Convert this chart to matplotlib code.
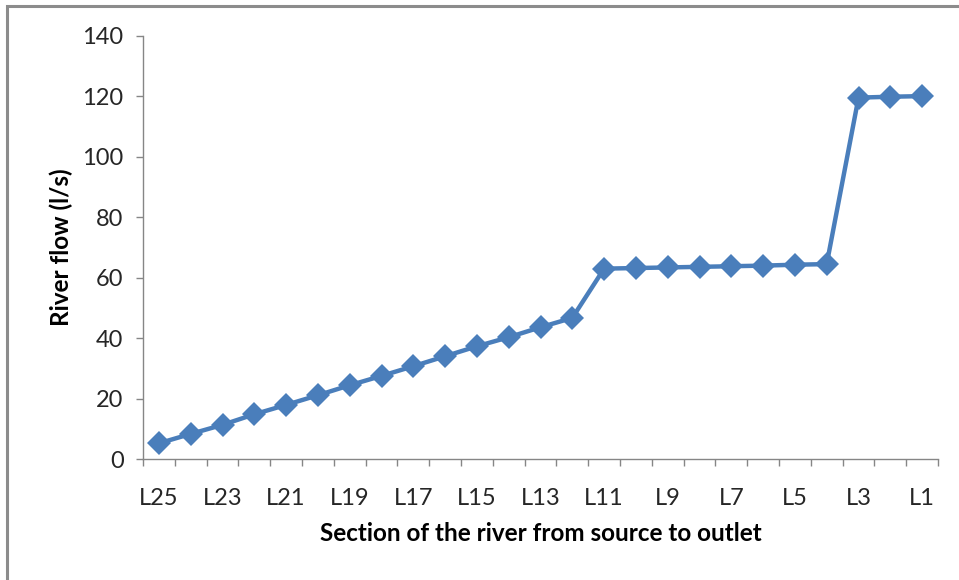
import matplotlib.pyplot as plt
from matplotlib.patches import Rectangle

# River sections from source (L25) to outlet (L1)
sections = ["L%d" % i for i in range(25, 0, -1)]
flow = [5.2, 8.3, 11.3, 14.8, 17.9, 21.1, 24.4, 27.5, 30.7, 34.0, 37.3, 40.3,
        43.6, 46.7, 63.0, 63.2, 63.4, 63.6, 63.8, 64.0, 64.3, 64.5, 119.6, 119.9, 120.1]
yticks = [0, 20, 40, 60, 80, 100, 120, 140]

plt.rcParams["font.family"] = ["Lato", "DejaVu Sans"]
txt = "#262626"
axis_col = "#868686"

fig = plt.figure(figsize=(9.59, 5.8), dpi=100)
ax = fig.add_axes([143 / 959, 1 - 459 / 580, (938 - 143) / 959, (459 - 36) / 580])

x = list(range(len(sections)))
ax.plot(x, flow, color="#4A7EBB", lw=3.2, marker="D", markersize=12,
        markeredgewidth=0, solid_joinstyle="round")

ax.set_xlim(-0.5, len(sections) - 0.5)
ax.set_ylim(0, 140)
ax.set_yticks(yticks)
ax.set_yticklabels([str(v) for v in yticks], fontsize=17, color=txt)

# tick marks between categories, labels on every other section
ax.set_xticks([i - 0.5 for i in range(len(sections) + 1)])
ax.set_xticklabels([])
ax.set_xticks(x[::2], minor=True)
ax.set_xticklabels(sections[::2], minor=True, fontsize=17, color=txt)
ax.tick_params(axis="x", which="minor", length=0, pad=21)
ax.tick_params(axis="both", which="major", length=5, width=1, color=axis_col)
ax.tick_params(axis="y", pad=9)

for s in ["top", "right"]:
    ax.spines[s].set_visible(False)
for s in ["left", "bottom"]:
    ax.spines[s].set_color(axis_col)
    ax.spines[s].set_linewidth(1)

ax.set_xlabel("Section of the river from source to outlet", fontsize=17.5,
              fontweight="bold", color="black", labelpad=9)
ax.set_ylabel("River flow (l/s)", fontsize=17.5, fontweight="bold", color="black",
              labelpad=7)

# outer chart border
fig.patches.append(Rectangle((7 / 959, -0.1), 1.2, 1 - 6 / 580 + 0.1,
                             transform=fig.transFigure, fill=False,
                             edgecolor="#8c8c8c", lw=2.2))

fig.savefig("out.png", dpi=100)
